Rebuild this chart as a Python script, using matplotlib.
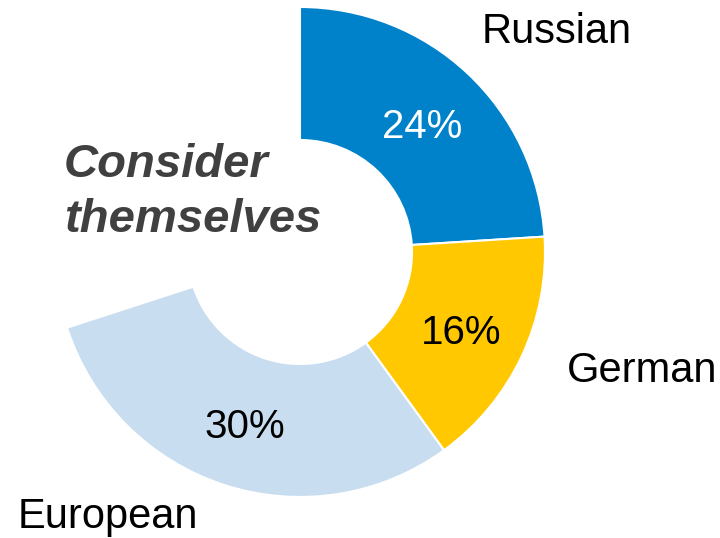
import numpy as np
import matplotlib.pyplot as plt

# ------------------------------
# data
# ------------------------------
groups = ["Russian", "German", "European"]
shares = [24, 16, 30]
colors = ["#0082CA", "#FFC800", "#C8DEF0"]
pct_colors = ["white", "black", "black"]
rest = 100 - sum(shares)   # part of the ring left empty

plt.rcParams['font.family'] = ['Liberation Sans', 'DejaVu Sans']

fig = plt.figure(figsize=(7.2, 5.38), dpi=100)
ax = fig.add_axes([0, 0, 1, 1])

cx, cy = 300, 286
R_out, R_in = 245, 112

wedges, _ = ax.pie(shares + [rest], colors=colors + ["none"],
                   startangle=90, counterclock=False,
                   center=(cx, cy), radius=R_out, frame=True,
                   wedgeprops=dict(width=R_out - R_in, edgecolor="white", linewidth=1.5))
wedges[-1].set_edgecolor("none")
ax.set_xlim(0, 720)
ax.set_ylim(0, 538)
ax.axis('off')

# percentage inside each segment
r_mid = (R_out + R_in) / 2
for w, val, tc in zip(wedges[:-1], shares, pct_colors):
    ang = np.deg2rad((w.theta1 + w.theta2) / 2)
    ax.text(cx + r_mid * np.cos(ang), cy + r_mid * np.sin(ang) - 5, f"{val}%",
            ha='center', va='center', fontsize=29, color=tc)

# category names
ax.text(482, 495, groups[0], fontsize=30, ha='left', va='baseline')
ax.text(567, 156, groups[1], fontsize=30, ha='left', va='baseline')
ax.text(18, 10, groups[2], fontsize=30, ha='left', va='baseline')

# title in the hole
ax.text(64, 361, "Consider", fontsize=34, fontweight='bold', fontstyle='italic',
        color="#404040", ha='left', va='baseline')
ax.text(64, 306, "themselves", fontsize=34, fontweight='bold', fontstyle='italic',
        color="#404040", ha='left', va='baseline')

plt.savefig("out.png", dpi=100)
